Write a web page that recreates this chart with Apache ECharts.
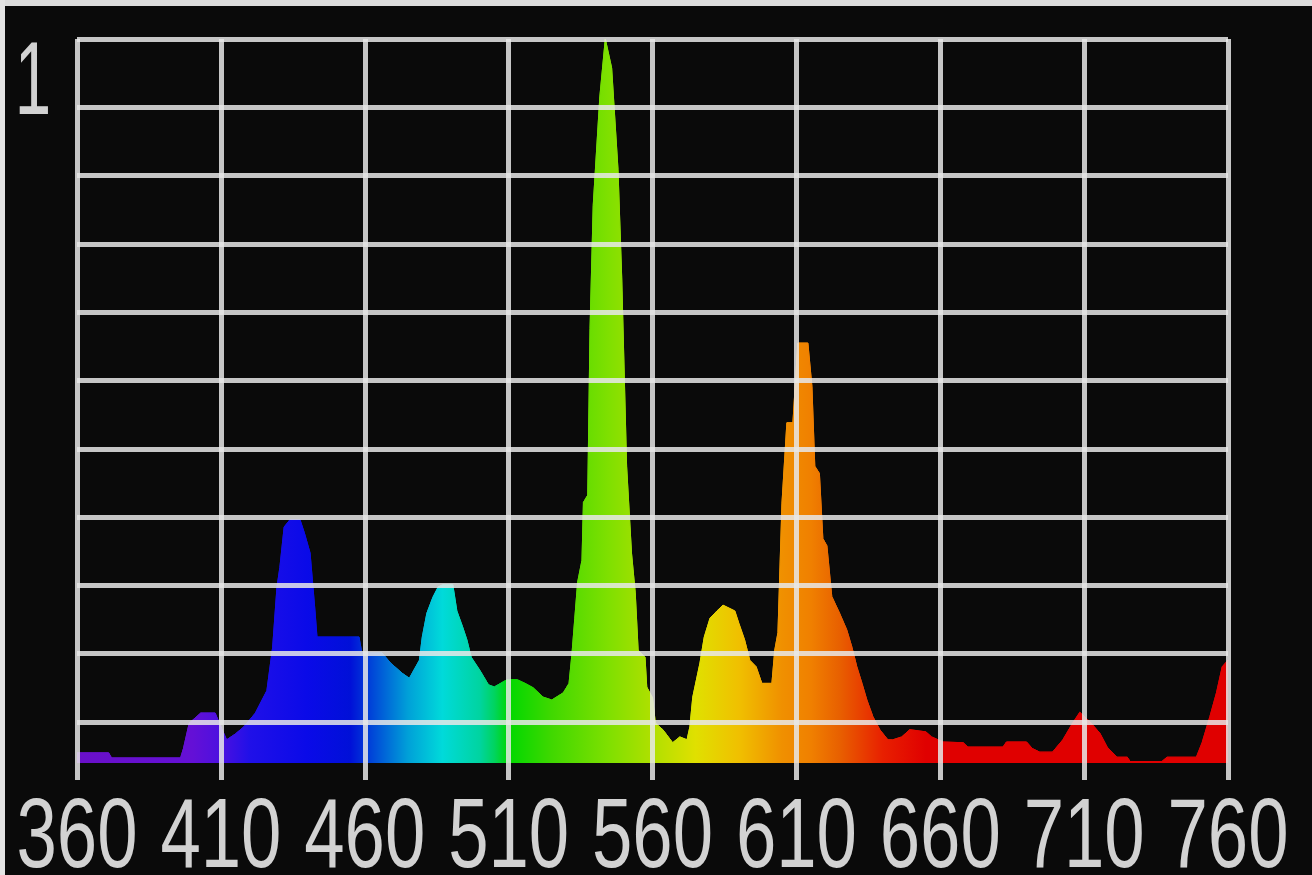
<!DOCTYPE html>
<html>
<head>
<meta charset="utf-8">
<script src="https://cdn.jsdelivr.net/npm/echarts@6/dist/echarts.min.js"></script>
<style>
  html, body { margin: 0; padding: 0; background: #0a0a0a; }
  #chart { width: 1312px; height: 875px; }
  .strip { position: absolute; background: #dcdcdc; pointer-events: none; }
</style>
</head>
<body>
<div id="chart"></div>
<div class="strip" style="left:0;top:0;width:1312px;height:6px;"></div>
<div class="strip" style="left:0;top:0;width:5px;height:875px;background:#e4e4e4;"></div>
<script>
// Wavelength (nm) and relative intensity
const wavelengths = [360,371,372,396,397,399,403,408,410,412,415,418,422,426,428,429.5,430.5,432,434,437.5,439,441,442.7,443.4,458,459,466,469,473,475.5,479,480,481.6,483.7,485.5,487,490.6,492,494,495.5,497,500,503,505,509.4,513,515.7,518.5,522,525,529,531,532,533,534,535.5,536,537.5,538.3,539.4,541.7,543.6,545.8,548,549.3,551,552.7,554,555,557.4,558,560,561,563.6,567,569.5,572,573,574,576.5,578,580,582.4,584.5,588.6,590,592,593.8,596,598,601.5,602.5,603.6,605,606.7,608.8,610.5,614,615.4,616.4,618,619.2,620.6,622.3,625,627.5,629.3,631,632.8,634.5,636.6,639,641.8,643.5,646.6,649.4,655,657,661,668,669.6,681.8,683,690,692,694.6,699,702.6,706,708.5,712,715.5,718,721.4,725,726,737,738.8,749,751,753.7,756,758,760];
const intensity = [0.014,0.014,0.007,0.007,0.02,0.055,0.069,0.069,0.05,0.032,0.04,0.05,0.069,0.10,0.16,0.243,0.27,0.326,0.336,0.336,0.318,0.29,0.21,0.174,0.174,0.152,0.152,0.138,0.124,0.117,0.142,0.174,0.207,0.229,0.243,0.246,0.246,0.21,0.188,0.17,0.146,0.128,0.108,0.105,0.115,0.115,0.11,0.104,0.091,0.087,0.097,0.11,0.15,0.2,0.25,0.28,0.36,0.37,0.6,0.77,0.92,1.0,0.96,0.82,0.67,0.41,0.29,0.235,0.156,0.146,0.105,0.09,0.055,0.046,0.028,0.036,0.032,0.05,0.091,0.138,0.174,0.20,0.21,0.218,0.21,0.193,0.17,0.142,0.133,0.11,0.11,0.156,0.18,0.359,0.47,0.47,0.58,0.58,0.52,0.41,0.40,0.31,0.30,0.23,0.207,0.184,0.16,0.133,0.11,0.087,0.064,0.046,0.032,0.032,0.036,0.046,0.043,0.036,0.029,0.028,0.022,0.022,0.029,0.029,0.02,0.015,0.015,0.032,0.055,0.07,0.057,0.041,0.022,0.008,0.008,0.002,0.002,0.008,0.008,0.028,0.064,0.097,0.133,0.142];
const xTicks = [360,410,460,510,560,610,660,710,760];
const yTopLabel = '1';
// Spectrum colour stops (nm -> colour)
const colorNm =  [360,400,410,420,440,455,465,475,487,500,505,510,525,545,555,575,590,605,615,625,640,655,760];
const colorHex = ['#6a10c8','#6410d6','#4c10e0','#2010e8','#0a0ae8','#0010d8','#0058d8','#00a0d8','#00dada','#00d4a0','#00d460','#00d800','#40d800','#80e000','#a0e000','#e0e000','#f0c000','#f09000','#f08000','#e86000','#e82000','#e00000','#e00000'];

const xMin = xTicks[0], xMax = xTicks[xTicks.length - 1];
const data = wavelengths.map((w, i) => [w, intensity[i]]);
const stops = colorNm.map((w, i) => ({ offset: (w - xMin) / (xMax - xMin), color: colorHex[i] }));
const gridColor = 'rgba(232,232,232,0.85)';
const labelFont = "'Liberation Sans', Arimo, sans-serif";
const labelColor = '#d2d2d2';
const labelSize = 98;
const condense = 0.74;

const chart = echarts.init(document.getElementById('chart'));
const grad = new echarts.graphic.LinearGradient(0, 0, 1, 0, stops);
chart.setOption({
  backgroundColor: '#0a0a0a',
  animation: false,
  grid: [
    { left: 77, right: 84, top: 39, bottom: 112, outerBoundsMode: 'none', containLabel: false },
    { left: 77, right: 84, top: 39, bottom: 153, outerBoundsMode: 'none', containLabel: false }
  ],
  xAxis: [
    {
      gridIndex: 0, type: 'value', min: xMin, max: xMax, interval: 50, z: 10,
      axisLine: { show: false },
      axisTick: { show: true, length: 17, lineStyle: { color: gridColor, width: 5 } },
      splitLine: { show: true, lineStyle: { color: gridColor, width: 5 } },
      axisLabel: { show: false }
    },
    { gridIndex: 1, type: 'value', min: xMin, max: xMax, show: false }
  ],
  yAxis: [
    { gridIndex: 0, type: 'value', min: 0, max: 1, show: false },
    {
      gridIndex: 1, type: 'value', min: 0, max: 10, interval: 1, z: 10,
      axisLine: { show: false }, axisTick: { show: false },
      splitLine: { show: true, lineStyle: { color: gridColor, width: 5 } },
      axisLabel: { show: false }
    }
  ],
  series: [{
    type: 'line', xAxisIndex: 0, yAxisIndex: 0, data: data,
    showSymbol: false, smooth: false, z: 2,
    lineStyle: { width: 1, color: grad },
    areaStyle: { color: grad, opacity: 1 }
  }]
});

// Condensed tick labels, placed through the axes' own scales
const baseY = chart.convertToPixel({ yAxisIndex: 0 }, 0);
const topY = chart.convertToPixel({ yAxisIndex: 1 }, 10);
const leftX = chart.convertToPixel({ xAxisIndex: 0 }, xMin);
const labelStyle = (t, size) => ({ text: t, fontSize: size, fontFamily: labelFont, fill: labelColor, align: 'center', verticalAlign: 'top' });
const graphics = xTicks.map(v => ({
  type: 'text', silent: true, z: 20,
  x: chart.convertToPixel({ xAxisIndex: 0 }, v), y: baseY + 28,
  scaleX: condense, style: labelStyle(String(v), labelSize)
}));
graphics.push({
  type: 'text', silent: true, z: 20,
  x: leftX - 44, y: topY - 6,
  scaleX: condense * 0.85, style: labelStyle(yTopLabel, 104)
});
chart.setOption({ graphic: graphics });
</script>
</body>
</html>
